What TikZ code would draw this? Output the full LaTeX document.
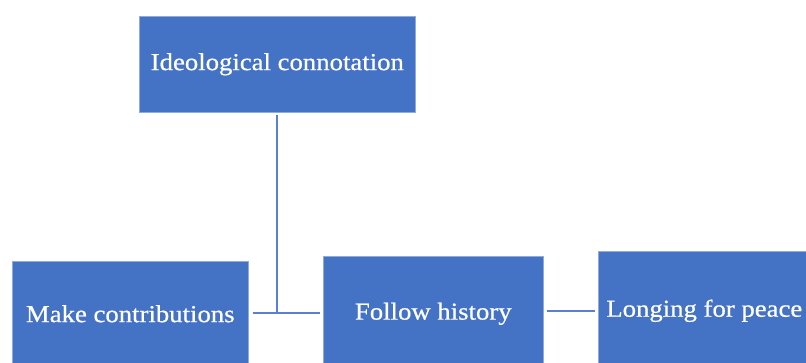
\documentclass[tikz,border=0pt]{standalone}
\usepackage{fontspec}
\setmainfont[FakeStretch=1.1,FakeBold=0.6]{Liberation Serif}
\definecolor{boxblue}{HTML}{4472C4}
\definecolor{linkblue}{HTML}{5B80D0}
\begin{document}
\begin{tikzpicture}[x=1pt,y=1pt,
  block/.style={rectangle, fill=boxblue, draw=boxblue!60!white, line width=0.6pt,
    text=white, font=\fontsize{24.3}{27}\selectfont, inner sep=0pt, anchor=north west},
  link/.style={draw=linkblue, line width=2.2pt}]
\useasboundingbox (0,0) rectangle (806,363);
\clip (0,0) rectangle (806,363);
% boxes (top-left corners, sizes); the lower boxes run past the bottom edge
\node[block, minimum width=276, minimum height=96] (top) at (139,347) {Ideological connotation};
\node[block, minimum width=236, minimum height=105] (make) at (12,102) {Make contributions};
\node[block, minimum width=220, minimum height=115] (follow) at (323,107) {Follow history};
\node[block, minimum width=212, minimum height=119] (peace) at (598,112) {Longing for peace};
% joints
\coordinate (j) at (top.south |- 0,50);
\coordinate (r) at (0,52);
% connectors
\draw[link] ([yshift=-2]top.south) -- (j);
\draw[link] ([xshift=4]make.east |- j) -- ([xshift=-3]follow.west |- j);
\draw[link] ([xshift=3]follow.east |- r) -- ([xshift=-3]peace.west |- r);
\end{tikzpicture}
\end{document}
